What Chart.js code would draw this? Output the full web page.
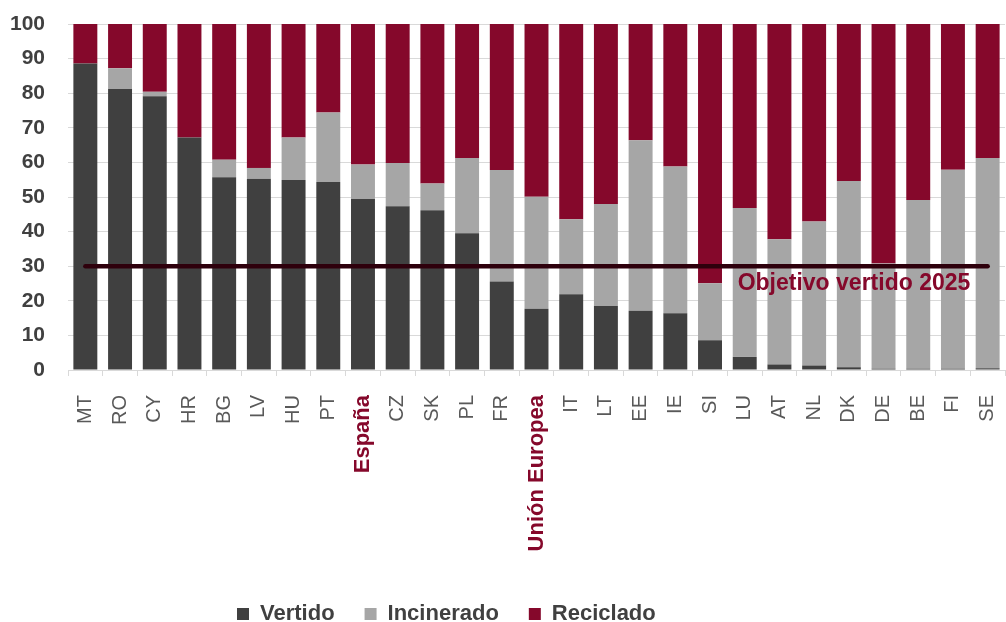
<!DOCTYPE html>
<html>
<head>
<meta charset="utf-8">
<script src="https://cdn.jsdelivr.net/npm/chart.js@4.4.0/dist/chart.umd.min.js"></script>
<style>
  html, body { margin: 0; padding: 0; background: #fff; }
  #wrap { width: 1006px; height: 622px; }
</style>
</head>
<body>
<div id="wrap"><canvas id="chart" width="1006" height="622"></canvas></div>
<script>
const paises = ['MT','RO','CY','HR','BG','LV','HU','PT','España','CZ','SK','PL','FR','Unión Europea','IT','LT','EE','IE','SI','LU','AT','NL','DK','DE','BE','FI','SE'];
const vertido = [88.6,81.2,79.1,67.2,55.7,55.3,54.9,54.3,49.4,47.3,46.2,39.5,25.6,17.7,21.9,18.5,17.1,16.4,8.6,3.8,1.6,1.3,0.8,0.4,0.4,0.4,0.5];
const incinerado = [0,6.0,1.3,0,5.1,3.1,12.3,20.1,10.0,12.5,7.7,21.8,32.2,32.4,21.7,29.5,49.3,42.4,16.5,43.0,36.2,41.6,53.8,30.4,48.7,57.5,60.8];
const reciclado = [11.4,12.8,19.6,32.8,39.2,41.6,32.8,25.6,40.6,40.2,46.1,38.7,42.2,49.9,56.4,52.0,33.6,41.2,74.9,53.2,62.2,57.1,45.4,69.2,50.9,42.1,38.7];
const objetivo = 30;
const objetivoTexto = 'Objetivo vertido 2025';
const destacados = ['España', 'Unión Europea'];
const yTicks = [0,10,20,30,40,50,60,70,80,90,100];

const rojo = '#85082b';
const fuente = "'Liberation Sans', Arial, sans-serif";

// texto del objetivo bajo la linea
const objetivoLabel = {
  id: 'objetivoLabel',
  afterDatasetsDraw(chart) {
    const x = chart.scales.x, y = chart.scales.y;
    const paso = x.getPixelForValue(1) - x.getPixelForValue(0);
    const right = x.getPixelForValue(paises.length - 2) + paso / 2;
    const ctx = chart.ctx;
    ctx.save();
    ctx.font = 'bold 23px ' + fuente;
    ctx.fillStyle = rojo;
    ctx.textAlign = 'right';
    ctx.textBaseline = 'middle';
    ctx.fillText(objetivoTexto, right, y.getPixelForValue(objetivo) + 17);
    ctx.restore();
  }
};

// la leyenda va algo mas abajo y a la izquierda, como en el original
const moverLeyenda = {
  id: 'moverLeyenda',
  afterLayout(chart) {
    const lg = chart.legend;
    const w = lg.right - lg.left;
    lg.left = 207;
    lg.right = lg.left + w;
    lg.top += 13;
    lg.bottom += 13;
  }
};

const ctx = document.getElementById('chart').getContext('2d');
new Chart(ctx, {
  type: 'bar',
  data: {
    labels: paises,
    datasets: [
      { label: 'Vertido', data: vertido, backgroundColor: '#404040', stack: 'a', order: 1 },
      { label: 'Incinerado', data: incinerado, backgroundColor: '#a6a6a6', stack: 'a', order: 1 },
      { label: 'Reciclado', data: reciclado, backgroundColor: rojo, stack: 'a', order: 1 },
      {
        type: 'line',
        label: objetivoTexto,
        data: paises.map(() => objetivo),
        borderColor: '#2e000c',
        borderWidth: 4.5,
        borderCapStyle: 'round',
        pointRadius: 0,
        stack: 'obj',
        order: 0
      }
    ]
  },
  options: {
    responsive: false,
    animation: false,
    layout: { padding: { top: 24, right: 1, left: 0, bottom: 0 } },
    datasets: { bar: { barPercentage: 0.69, categoryPercentage: 1 } },
    plugins: {
      legend: {
        position: 'bottom',
        align: 'start',
        labels: {
          filter: item => item.datasetIndex < 3,
          boxWidth: 12,
          boxHeight: 12,
          padding: 30,
          color: '#404040',
          font: { family: fuente, size: 22, weight: 'bold' }
        }
      },
      tooltip: { enabled: false }
    },
    scales: {
      x: {
        stacked: true,
        grid: { drawOnChartArea: false, color: '#d9d9d9', tickLength: 6, offset: true },
        border: { color: '#d9d9d9' },
        ticks: {
          autoSkip: false,
          maxRotation: 90,
          minRotation: 90,
          padding: 19,
          color: c => destacados.includes(paises[c.index]) ? rojo : '#595959',
          font: c => destacados.includes(paises[c.index])
            ? { family: fuente, size: 22, weight: 'bold' }
            : { family: fuente, size: 20 }
        },
        afterFit: s => { s.height = 190; s.paddingLeft = 0; s.paddingRight = 0; }
      },
      y: {
        stacked: true,
        min: 0,
        max: 100,
        afterBuildTicks: s => { s.ticks = yTicks.map(v => ({ value: v })); },
        grid: { color: '#d9d9d9', drawTicks: false },
        border: { display: false },
        ticks: {
          padding: 23,
          color: '#404040',
          font: { family: fuente, size: 21, weight: 'bold' }
        },
        afterFit: s => { s.width = 68; s.paddingTop = 0; s.paddingBottom = 0; }
      }
    }
  },
  plugins: [objetivoLabel, moverLeyenda]
});
</script>
</body>
</html>
